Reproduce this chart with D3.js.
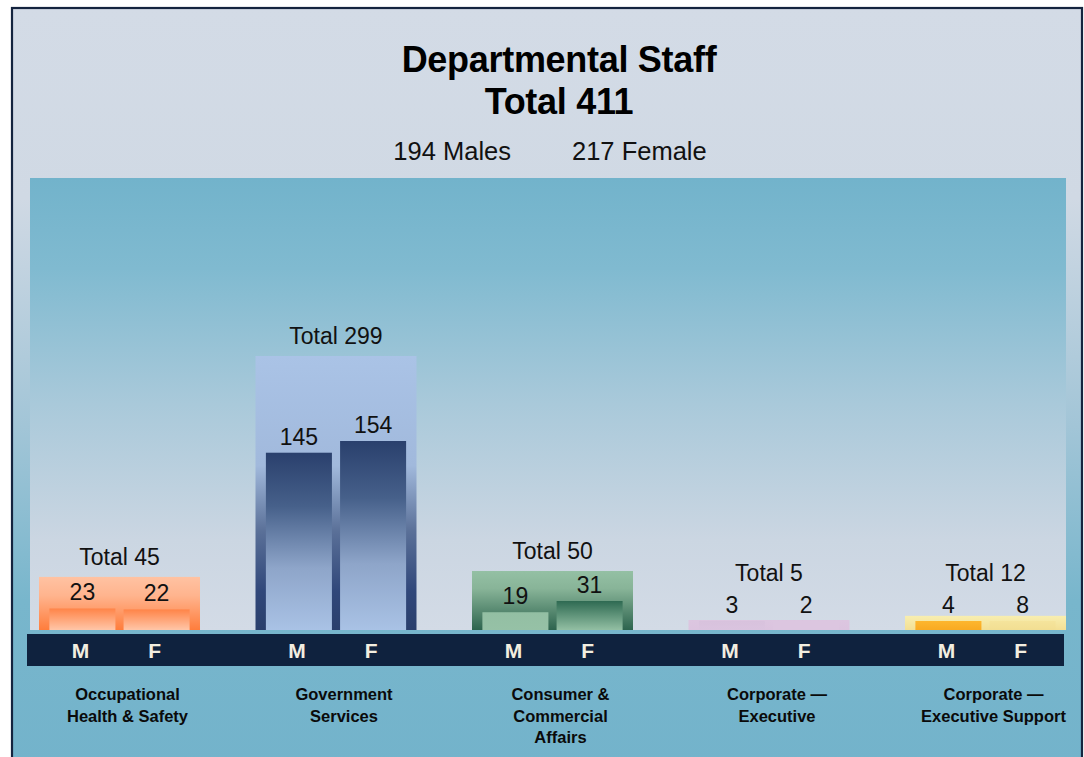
<!DOCTYPE html>
<html>
<head>
<meta charset="utf-8">
<script src="https://cdn.jsdelivr.net/npm/d3@7"></script>
<style>
  html, body { margin: 0; padding: 0; background: #ffffff; }
  svg { display: block; }
  text { font-family: "Liberation Sans", Arial, sans-serif; }
</style>
</head>
<body>
<svg id="chart" width="1084" height="757"></svg>
<script>
// ---- data ----
const categories = [
  "Occupational\nHealth & Safety",
  "Government\nServices",
  "Consumer &\nCommercial\nAffairs",
  "Corporate —\nExecutive",
  "Corporate —\nExecutive Support"
];
const males   = [23, 145, 19, 3, 4];
const females = [22, 154, 31, 2, 8];
const totals  = [45, 299, 50, 5, 12];
const seriesKeys = ["M", "F"];
const titleText = "Departmental Staff";

// ---- styles ----
const totalStops = [
  [[0, "#ffc2a2"], [0.35, "#ffb48e"], [1, "#ff7d3c"]],
  [[0, "#aac3e6"], [0.4, "#a1b9dc"], [0.64, "#5a7098"], [0.86, "#30477a"], [1, "#2a3f6c"]],
  [[0, "#94c0a4"], [0.3, "#88b498"], [1, "#2d644e"]],
  [[0, "#dcc6e0"], [1, "#dbc4df"]],
  [[0, "#f8eeb0"], [1, "#f3df94"]]
];
const maleStops = [
  [[0, "#ff8448"], [1, "#ffc6a8"]],
  [[0, "#2a406d"], [0.3, "#46608a"], [0.65, "#8ea5c9"], [1, "#a9c2e5"]],
  [[0, "#93bfa3"], [1, "#96c1a6"]],
  [[0, "#d8c2dd"], [1, "#dac4df"]],
  [[0, "#fdb62e"], [1, "#f9aa22"]]
];
const femaleStops = [
  [[0, "#ff8448"], [1, "#ffc6a8"]],
  [[0, "#2a406d"], [0.3, "#46608a"], [0.65, "#8ea5c9"], [1, "#a9c2e5"]],
  [[0, "#2e6a52"], [1, "#93bfa3"]],
  [[0, "#dcc6e0"], [1, "#dcc6e0"]],
  [[0, "#f5e49c"], [1, "#f2de92"]]
];

const svg = d3.select("#chart");
const defs = svg.append("defs");

function addGrad(id, stops, userSpace) {
  const g = defs.append("linearGradient").attr("id", id)
    .attr("x1", 0).attr("y1", userSpace ? userSpace[0] : 0)
    .attr("x2", 0).attr("y2", userSpace ? userSpace[1] : 1);
  if (userSpace) g.attr("gradientUnits", "userSpaceOnUse");
  stops.forEach(s => g.append("stop").attr("offset", s[0]).attr("stop-color", s[1]));
}

// frame background & plot background
addGrad("frameBg", [[0, "#d3dbe6"], [0.25, "#d0d9e4"], [0.55, "#a2c5d7"], [0.78, "#78b6cc"], [1, "#73b3cb"]], [8, 768]);
addGrad("plotBg", [[0, "#72b3cb"], [0.2, "#80bad0"], [0.5, "#a9c9da"], [0.8, "#cbd6e2"], [1, "#d3dbe6"]], [178, 630]);

categories.forEach((c, i) => {
  addGrad("tot" + i, totalStops[i]);
  addGrad("M" + i, maleStops[i]);
  addGrad("F" + i, femaleStops[i]);
});

// frame
svg.append("rect").attr("x", 12).attr("y", 8).attr("width", 1070).attr("height", 762)
  .attr("fill", "url(#frameBg)").attr("stroke", "#14243f").attr("stroke-width", 2.2);

const baseY = 630;
svg.append("rect").attr("x", 30).attr("y", 178).attr("width", 1036).attr("height", baseY - 178)
  .attr("fill", "url(#plotBg)");

// dark band
svg.append("rect").attr("x", 27).attr("y", 634).attr("width", 1037).attr("height", 32)
  .attr("fill", "#0f223e");

// titles
const cx = 559;
svg.append("text").attr("x", cx).attr("y", 72).attr("text-anchor", "middle")
  .attr("font-size", 36).attr("font-weight", "bold").attr("fill", "#000")
  .attr("letter-spacing", -0.3).text(titleText);
svg.append("text").attr("x", cx).attr("y", 114).attr("text-anchor", "middle")
  .attr("font-size", 36).attr("font-weight", "bold").attr("fill", "#000")
  .attr("letter-spacing", -0.3).text("Total " + d3.sum(totals));
svg.append("text").attr("x", 511).attr("y", 160).attr("text-anchor", "end")
  .attr("font-size", 25.5).attr("fill", "#111").text(d3.sum(males) + " Males");
svg.append("text").attr("x", 572).attr("y", 160).attr("text-anchor", "start")
  .attr("font-size", 25.5).attr("fill", "#111").text(d3.sum(females) + " Female");

// scales
const x = d3.scaleBand().domain(categories).range([39, 1066]).paddingInner(0.2564).paddingOuter(0);
const xs = d3.scaleBand().domain(seriesKeys).range([0, x.bandwidth()]).paddingInner(0.11).paddingOuter(0.14);
const yTotal = d3.scaleLinear().domain([0, 50, 299]).range([baseY, 571, 356]);
const yVal = d3.scaleLinear().domain([0, 31, 154]).range([baseY, 601, 441]);
const minTotalH = 10, minValH = 9;

const groups = svg.append("g").selectAll("g").data(categories).join("g")
  .attr("transform", d => `translate(${x(d)},0)`);

groups.each(function (c, i) {
  const g = d3.select(this);
  const tTop = Math.min(yTotal(totals[i]), baseY - minTotalH);
  g.append("rect").attr("x", 0).attr("y", tTop).attr("width", x.bandwidth())
    .attr("height", baseY - tTop).attr("fill", `url(#tot${i})`);

  const vals = [males[i], females[i]];
  const labelBases = [];
  seriesKeys.forEach((k, j) => {
    const top = Math.min(yVal(vals[j]), baseY - minValH);
    g.append("rect").attr("x", xs(k)).attr("y", top).attr("width", xs.bandwidth())
      .attr("height", baseY - top).attr("fill", `url(#${k}${i})`);
    const lb = top - 8;
    labelBases.push(lb);
    g.append("text").attr("x", xs(k) + xs.bandwidth() / 2).attr("y", lb)
      .attr("text-anchor", "middle").attr("font-size", 23).attr("fill", "#111")
      .text(vals[j]);
    // M/F axis labels
    g.append("text").attr("x", xs(k) + xs.bandwidth() / 2 - 2).attr("y", 658)
      .attr("text-anchor", "middle").attr("font-size", 21).attr("font-weight", "bold")
      .attr("fill", "#f2eee0").text(k);
  });

  const totBase = Math.min(tTop - 12, d3.min(labelBases) - 32);
  g.append("text").attr("x", x.bandwidth() / 2).attr("y", totBase)
    .attr("text-anchor", "middle").attr("font-size", 23).attr("fill", "#111")
    .text("Total " + totals[i]);

  // category label
  const lines = c.split("\n");
  const t = g.append("text").attr("text-anchor", "middle").attr("font-size", 16.5)
    .attr("font-weight", "bold").attr("fill", "#0a0a0a");
  lines.forEach((ln, li) => {
    t.append("tspan").attr("x", x.bandwidth() / 2 + 8).attr("y", 700 + li * 21.5).text(ln);
  });
});
</script>
</body>
</html>
